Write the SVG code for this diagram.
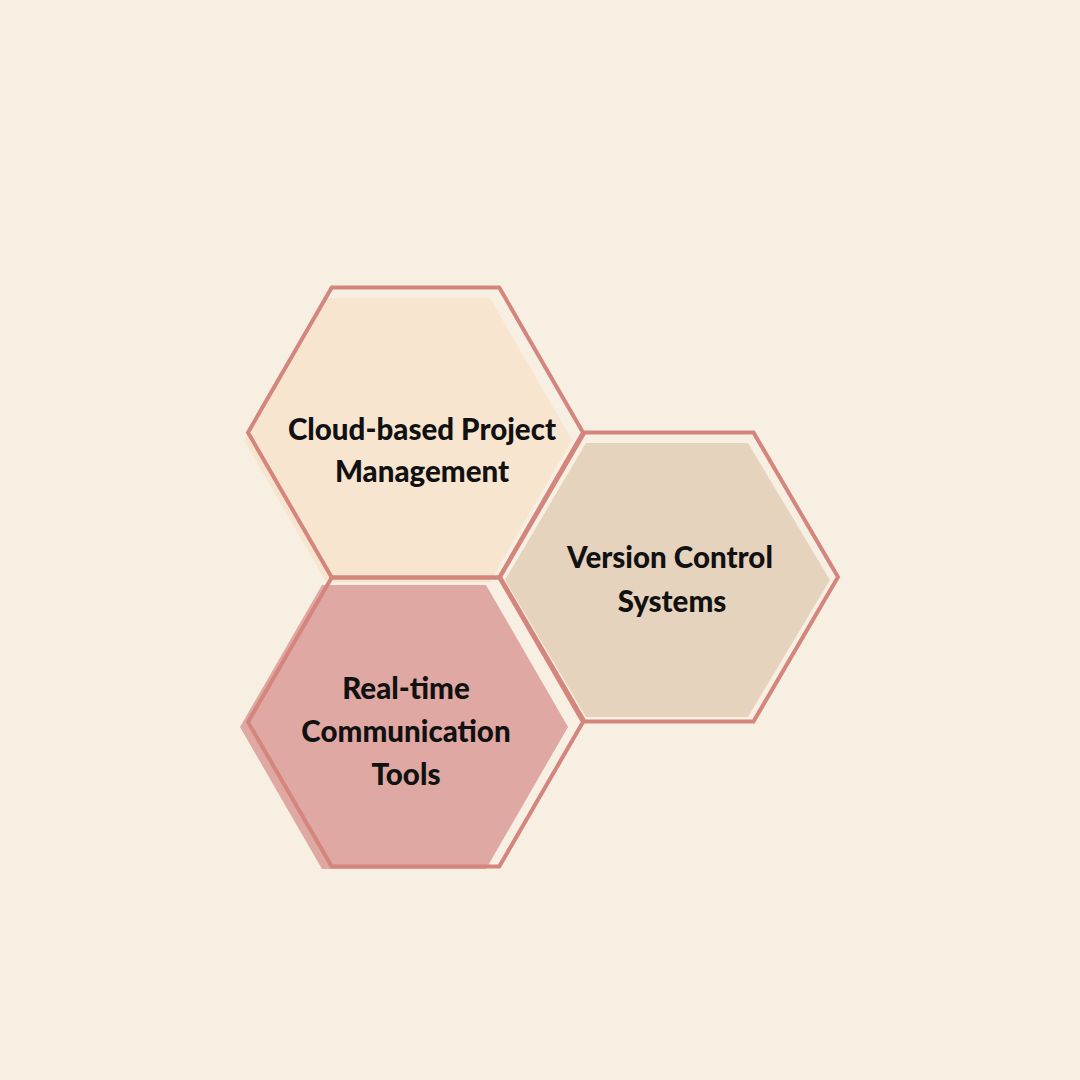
<svg xmlns="http://www.w3.org/2000/svg" width="1080" height="1080" viewBox="0 0 1080 1080">
<style>
.outline{fill:none;stroke:#D4867D;stroke-width:4;stroke-linejoin:miter}
.lbl{font-family:Lato,"Noto Sans",sans-serif;font-weight:900;font-size:29.5px;fill:#111111;text-anchor:middle}
</style>
<rect width="1080" height="1080" fill="#F8EFE3"/>
<g id="hex-cloud">
<polygon points="244,440 326,298 490,298 572,440 490,582 326,582" fill="#F8E5CF"/>
<polygon class="outline" points="248,432.5 331.75,287.5 499.25,287.5 583,432.5 499.25,577.5 331.75,577.5"/>
<text class="lbl" x="422" y="440">Cloud-based Project</text>
<text class="lbl" x="422" y="482">Management</text>
</g>
<g id="hex-version">
<polygon points="505,580 586,443 748,443 830,580 748,717 586,717" fill="#E6D3BE"/>
<polygon class="outline" points="500,577 584.5,432.5 753.5,432.5 838,577 753.5,721.5 584.5,721.5"/>
<text class="lbl" x="670" y="568">Version Control</text>
<text class="lbl" x="672" y="612">Systems</text>
</g>
<g id="hex-realtime">
<polygon points="240,727 322,585 486,585 568,727 486,869 322,869" fill="#DFA8A2"/>
<polygon class="outline" points="248,722 331.75,577.5 499.25,577.5 583,722 499.25,866.5 331.75,866.5"/>
<text class="lbl" x="406" y="699">Real-time</text>
<text class="lbl" x="406" y="742">Communication</text>
<text class="lbl" x="406" y="785">Tools</text>
</g>
<g id="connectors"/>
</svg>
